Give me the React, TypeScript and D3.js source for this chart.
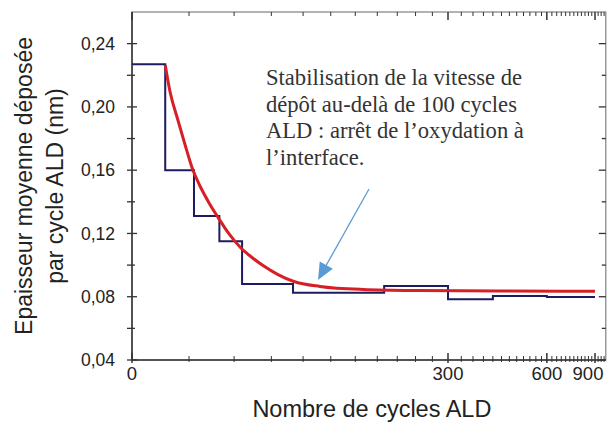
import React from "react";
import * as d3 from "d3";

// ---- data ----
const stepEdges = [0, 15, 30, 45, 60, 100, 200, 300, 400, 600, 900];
const stepValues = [0.227, 0.16, 0.131, 0.115, 0.088, 0.0825, 0.0868, 0.0784, 0.0805, 0.0798];

const fitCycles = [15, 17.4, 20.9, 25.1, 29, 33.4, 38.7, 44, 51.2, 59.2, 67.1, 75.3, 87.2, 100.8, 125.3, 173, 252, 420, 900];
const fitValues = [0.2265, 0.2094, 0.1936, 0.1762, 0.1614, 0.15, 0.1393, 0.1304, 0.1197, 0.1108, 0.1048, 0.0997, 0.094, 0.0896, 0.0865, 0.0846, 0.0839, 0.0836, 0.0835];

const xMajorTicks = [0, 300, 600, 900];
const xTickLabels = ["0", "300", "600", "900"];
const yMajorTicks = [0.04, 0.08, 0.12, 0.16, 0.2, 0.24];
const yMinorTicks = [0.06, 0.1, 0.14, 0.18, 0.22];

const annotationLines = [
  "Stabilisation de la vitesse de",
  "dépôt au-delà de 100 cycles",
  "ALD : arrêt de l’oxydation à",
  "l’interface.",
];
const yTitleLines = ["Epaisseur moyenne déposée", "par cycle ALD (nm)"];
const xTitle = "Nombre de cycles ALD";

// ---- layout ----
const W = 613;
const H = 425;
const left = 132;
const top = 12;
const bottom = 360;
const xMax = 990;

const seg1 = d3.scaleLog().domain([90, 390]).range([left, 448]);
const seg2 = d3.scaleLog().domain([172, 772]).range([448, 595]);
const x = (n: number) => (n <= 300 ? seg1(n + 90) : seg2(n - 128));
const right = x(xMax);

const y = d3.scaleLinear().domain([0.04, 0.26]).range([bottom, top]);

const xMinorTicks = [
  ...d3.range(1, 11).map((i) => (i * 300) / 11),
  ...d3.range(325, xMax, 25).filter((v) => v !== 600 && v !== 900),
];

export default function App() {
  const stepPts: [number, number][] = stepEdges.map((e, i) => [
    e,
    stepValues[Math.min(i, stepValues.length - 1)],
  ]);
  const stepLine = d3
    .line<[number, number]>()
    .x((d) => x(d[0]))
    .y((d) => y(d[1]))
    .curve(d3.curveStepAfter)(stepPts) as string;

  const fitPts: [number, number][] = fitCycles.map((c, i) => [x(c), y(fitValues[i])]);
  const fitLine = d3.line().curve(d3.curveMonotoneX)(fitPts) as string;

  const sans = "'Liberation Sans', Arial, sans-serif";
  const serif = "'Liberation Serif', 'Times New Roman', serif";

  // arrow
  const ax1 = 369, ay1 = 189, ax2 = 318, ay2 = 280;
  const ang = Math.atan2(ay2 - ay1, ax2 - ax1);
  const headL = 17, headW = 7.5;
  const bx = ax2 - headL * Math.cos(ang);
  const by = ay2 - headL * Math.sin(ang);
  const head = `M${ax2},${ay2}L${bx + headW * Math.sin(ang)},${by - headW * Math.cos(ang)}L${bx - headW * Math.sin(ang)},${by + headW * Math.cos(ang)}Z`;

  return (
    <svg
      width={W}
      height={H}
      style={{ position: "absolute", left: 0, top: 0, background: "#fff" }}
    >
      {/* frame */}
      <rect x={left} y={top} width={right - left} height={bottom - top} fill="none" stroke="#808080" strokeWidth={1.2} />
      <line x1={left} y1={top} x2={left} y2={bottom} stroke="#333" strokeWidth={1.5} />
      <line x1={left} y1={bottom} x2={right} y2={bottom} stroke="#333" strokeWidth={1.5} />

      {/* y ticks */}
      {yMajorTicks.map((v) => (
        <g key={"ym" + v}>
          <line x1={left - 5} x2={left + 5} y1={y(v)} y2={y(v)} stroke="#333" strokeWidth={1.3} />
          <line x1={right - 7} x2={right} y1={y(v)} y2={y(v)} stroke="#333" strokeWidth={1.3} />
          <text x={115} y={y(v)} dy="0.35em" textAnchor="end" fontFamily={sans} fontSize={17.5} fill="#222">
            {v.toFixed(2).replace(".", ",")}
          </text>
        </g>
      ))}
      {yMinorTicks.map((v) => (
        <g key={"yn" + v}>
          <line x1={left - 5} x2={left + 3} y1={y(v)} y2={y(v)} stroke="#333" strokeWidth={1.3} />
          <line x1={right - 4} x2={right} y1={y(v)} y2={y(v)} stroke="#333" strokeWidth={1.3} />
        </g>
      ))}

      {/* x ticks */}
      {xMajorTicks.map((v, i) => (
        <g key={"xm" + v}>
          <line x1={x(v)} x2={x(v)} y1={bottom - 7} y2={bottom + 3} stroke="#333" strokeWidth={1.5} />
          <line x1={x(v)} x2={x(v)} y1={top} y2={top + 8} stroke="#333" strokeWidth={1.5} />
          <text
            x={x(v)}
            dx={i === xMajorTicks.length - 1 ? -7 : 0}
            y={380}
            textAnchor="middle"
            fontFamily={sans}
            fontSize={18.5}
            fill="#222"
          >
            {xTickLabels[i]}
          </text>
        </g>
      ))}
      {xMinorTicks.map((v) => (
        <g key={"xn" + v}>
          <line x1={x(v)} x2={x(v)} y1={bottom - 4} y2={bottom + 2} stroke="#333" strokeWidth={1} />
          <line x1={x(v)} x2={x(v)} y1={top} y2={top + 4} stroke="#333" strokeWidth={1} />
        </g>
      ))}

      {/* data */}
      <path d={stepLine} fill="none" stroke="#1c1c5e" strokeWidth={2} />
      <path d={fitLine} fill="none" stroke="#d71f26" strokeWidth={3} />

      {/* annotation */}
      {annotationLines.map((t, i) => (
        <text key={t} x={266} y={85 + i * 26.7} fontFamily={serif} fontSize={22.6} fill="#333">
          {t}
        </text>
      ))}
      <line x1={ax1} y1={ay1} x2={bx} y2={by} stroke="#5b9bd5" strokeWidth={1.3} />
      <path d={head} fill="#5b9bd5" />

      {/* axis titles */}
      <text x={(left + right) / 2 + 3} y={417} textAnchor="middle" fontFamily={sans} fontSize={23.5} fill="#222">
        {xTitle}
      </text>
      {yTitleLines.map((t, i) => (
        <text
          key={t}
          transform={`translate(${32 + i * 31},${(top + bottom) / 2}) rotate(-90)`}
          textAnchor="middle"
          fontFamily={sans}
          fontSize={23}
          fill="#222"
        >
          {t}
        </text>
      ))}
    </svg>
  );
}
